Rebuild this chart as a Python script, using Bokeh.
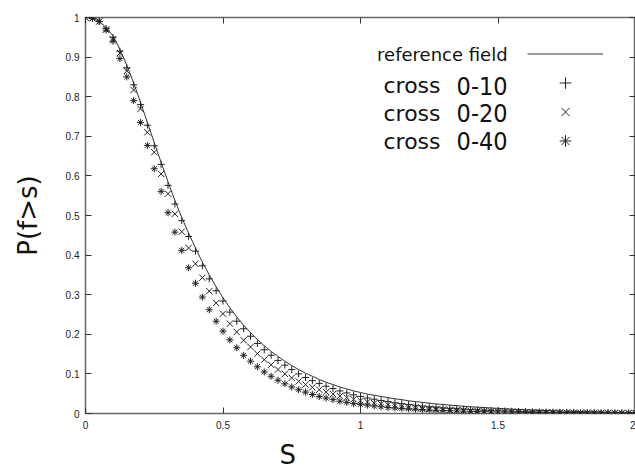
import math
from bokeh.plotting import figure
from bokeh.models import (Range1d, FixedTicker, LinearAxis, Label, Legend, LegendItem,
                          Grid, Title)
from bokeh.embed import file_html
from bokeh.resources import INLINE

# ---------------- data ----------------
s = [0.0, 0.025, 0.05, 0.075, 0.1, 0.125, 0.15, 0.175, 0.2, 0.225,
     0.25, 0.275, 0.3, 0.325, 0.35, 0.375, 0.4, 0.425, 0.45, 0.475,
     0.5, 0.525, 0.55, 0.575, 0.6, 0.625, 0.65, 0.675, 0.7, 0.725,
     0.75, 0.775, 0.8, 0.825, 0.85, 0.875, 0.9, 0.925, 0.95, 0.975,
     1.0, 1.025, 1.05, 1.075, 1.1, 1.125, 1.15, 1.175, 1.2, 1.225,
     1.25, 1.275, 1.3, 1.325, 1.35, 1.375, 1.4, 1.425, 1.45, 1.475,
     1.5, 1.525, 1.55, 1.575, 1.6, 1.625, 1.65, 1.675, 1.7, 1.725,
     1.75, 1.775, 1.8, 1.825, 1.85, 1.875, 1.9, 1.925, 1.95, 1.975,
     2.0]

p_ref = [1.0, 0.998, 0.99, 0.975, 0.953, 0.92, 0.88, 0.835, 0.786, 0.735,
         0.684, 0.634, 0.585, 0.538, 0.495, 0.455, 0.418, 0.382, 0.350, 0.320,
         0.292, 0.267, 0.244, 0.223, 0.204, 0.187, 0.171, 0.157, 0.144, 0.132,
         0.121, 0.111, 0.102, 0.094, 0.086, 0.079, 0.073, 0.067, 0.062, 0.057,
         0.053, 0.049, 0.046, 0.043, 0.040, 0.037, 0.035, 0.032, 0.030, 0.028,
         0.026, 0.024, 0.023, 0.021, 0.020, 0.018, 0.017, 0.016, 0.015, 0.014,
         0.013, 0.012, 0.011, 0.0102, 0.0094, 0.0087, 0.008, 0.0074, 0.0068, 0.0063,
         0.0058, 0.0053, 0.0049, 0.0045, 0.0042, 0.0038, 0.0035, 0.0032, 0.003, 0.0027,
         0.0025]

p_0_10 = [1.0, 0.998, 0.99, 0.972, 0.95, 0.915, 0.873, 0.83, 0.78, 0.728,
          0.676, 0.629, 0.576, 0.529, 0.487, 0.447, 0.410, 0.373, 0.340, 0.310,
          0.284, 0.256, 0.233, 0.214, 0.195, 0.177, 0.161, 0.147, 0.134, 0.122,
          0.111, 0.100, 0.091, 0.083, 0.076, 0.069, 0.063, 0.057, 0.052, 0.047,
          0.043, 0.039, 0.036, 0.033, 0.030, 0.027, 0.025, 0.023, 0.021, 0.019,
          0.017, 0.016, 0.014, 0.013, 0.012, 0.011, 0.010, 0.009, 0.008, 0.0075,
          0.007, 0.0063, 0.0057, 0.0052, 0.0047, 0.0043, 0.0039, 0.0035, 0.0032, 0.0029,
          0.0026, 0.0024, 0.0022, 0.002, 0.0018, 0.0016, 0.0015, 0.0013, 0.0012, 0.0011,
          0.001]

p_0_20 = [1.0, 0.998, 0.99, 0.97, 0.945, 0.91, 0.865, 0.817, 0.769, 0.71,
          0.66, 0.605, 0.555, 0.504, 0.459, 0.418, 0.378, 0.343, 0.309, 0.279,
          0.252, 0.227, 0.206, 0.185, 0.168, 0.151, 0.136, 0.123, 0.111, 0.100,
          0.090, 0.081, 0.073, 0.066, 0.060, 0.054, 0.049, 0.044, 0.040, 0.036,
          0.032, 0.029, 0.026, 0.024, 0.022, 0.020, 0.018, 0.016, 0.015, 0.013,
          0.012, 0.011, 0.010, 0.009, 0.0085, 0.0078, 0.0071, 0.0065, 0.006, 0.0055,
          0.005, 0.0046, 0.0042, 0.0039, 0.0036, 0.0033, 0.003, 0.0028, 0.0026, 0.0024,
          0.0022, 0.002, 0.0018, 0.0017, 0.0015, 0.0014, 0.0013, 0.0012, 0.0011, 0.001,
          0.0009]

p_0_40 = [1.0, 0.998, 0.99, 0.968, 0.94, 0.896, 0.85, 0.79, 0.735, 0.677,
          0.618, 0.561, 0.507, 0.458, 0.412, 0.368, 0.329, 0.294, 0.262, 0.233,
          0.208, 0.186, 0.166, 0.147, 0.132, 0.118, 0.105, 0.094, 0.084, 0.075,
          0.067, 0.060, 0.054, 0.048, 0.043, 0.039, 0.035, 0.031, 0.028, 0.025,
          0.023, 0.021, 0.019, 0.017, 0.015, 0.014, 0.013, 0.012, 0.011, 0.010,
          0.009, 0.0083, 0.0076, 0.007, 0.0064, 0.0059, 0.0054, 0.005, 0.0046, 0.0042,
          0.0039, 0.0036, 0.0033, 0.003, 0.0028, 0.0026, 0.0024, 0.0022, 0.002, 0.0019,
          0.0017, 0.0016, 0.0015, 0.0014, 0.0013, 0.0012, 0.0011, 0.001, 0.0009, 0.0009,
          0.0008]

x_ticks = [0, 0.5, 1, 1.5, 2]
x_tick_labels = ["0", "0.5", "1", "1.5", "2"]
y_ticks = [0.0, 0.1, 0.2, 0.3, 0.4, 0.5, 0.6, 0.7, 0.8, 0.9, 1.0]
y_tick_labels = ["0", "0.1", "0.2", "0.3", "0.4", "0.5", "0.6", "0.7", "0.8", "0.9", "1"]

series_labels = ["0-10", "0-20", "0-40"]

# ---------------- figure ----------------
p = figure(width=635, height=476, output_backend="svg", toolbar_location=None,
           x_range=Range1d(0, 2), y_range=Range1d(0, 1),
           x_axis_location=None, y_axis_location=None,
           min_border_left=85, min_border_right=0, min_border_top=17, min_border_bottom=63)
p.outline_line_color = "#666666"
p.outline_line_width = 1.5
p.background_fill_color = "white"
p.border_fill_color = "white"
for g in p.select(type=Grid):
    g.visible = False

TICK_FONT = "Liberation Sans"


def make_axis(kind, ticks, labels, show):
    ax = LinearAxis(ticker=FixedTicker(ticks=ticks))
    ax.axis_line_color = None
    ax.major_tick_in = 6
    ax.major_tick_out = 0
    ax.major_tick_line_color = "#333333"
    ax.major_tick_line_width = 1
    ax.minor_tick_line_color = None
    if show:
        ax.major_label_overrides = {t: l for t, l in zip(ticks, labels)}
        ax.major_label_text_font = TICK_FONT
        ax.major_label_text_font_size = "10px"
        ax.major_label_text_color = "#222222"
        ax.major_label_standoff = 7 if kind == "below" else 6
    else:
        # mirrored ticks only (gnuplot style), labels not drawn
        ax.major_label_text_font_size = "1px"
        ax.major_label_text_color = None
        ax.major_label_standoff = 0
    p.add_layout(ax, kind)
    return ax


make_axis("below", x_ticks, x_tick_labels, True)
yax = make_axis("left", y_ticks, y_tick_labels, True)
make_axis("above", x_ticks, x_tick_labels, False)
make_axis("right", y_ticks, y_tick_labels, False)

yax.axis_label = "P(f>s)"
yax.axis_label_text_font = "DejaVu Sans"
yax.axis_label_text_font_size = "26px"
yax.axis_label_text_font_style = "normal"
yax.axis_label_text_color = "#111111"
yax.axis_label_standoff = 20

p.add_layout(Title(text="S", align="left", offset=194, text_font="DejaVu Sans",
                   text_font_size="26px", text_font_style="normal",
                   text_color="#111111", standoff=12), "below")

ink = "#222222"
r_line = p.line(s, p_ref, line_color="#333333", line_width=1)
r_a = p.scatter(s, p_0_10, marker="cross", size=7, line_color=ink, line_width=1)
r_b = p.scatter(s, p_0_20, marker="x", size=9, line_color=ink, line_width=1)
r_c = p.scatter(s, p_0_40, marker="asterisk", size=7, line_color=ink, line_width=1)

legend = Legend(items=[LegendItem(label=" ", renderers=[r]) for r in (r_line, r_a, r_b, r_c)],
                location="top_right", glyph_width=76, glyph_height=29, spacing=0,
                padding=0, margin=22, label_width=10, label_standoff=0,
                label_text_font_size="1px", label_text_color=None,
                border_line_color=None, background_fill_alpha=0)
p.add_layout(legend)

# legend texts (gnuplot style: text left of the sample)
p.add_layout(Label(x=1.535, y=0.907, text="reference field", text_align="right",
                   text_baseline="middle", text_font="DejaVu Sans",
                   text_font_size="18px", text_color="#111111"))
rows_y = [0.828, 0.758, 0.687]
for lab, yy in zip(series_labels, rows_y):
    p.add_layout(Label(x=1.291, y=yy, text="cross", text_align="right",
                       text_baseline="middle", text_font="DejaVu Sans",
                       text_font_size="22px", text_color="#111111"))
    p.add_layout(Label(x=1.535, y=yy, text=lab, text_align="right",
                       text_baseline="middle", text_font="DejaVu Sans Condensed, DejaVu Sans",
                       text_font_size="25px", text_color="#111111"))

open("out.html", "w").write(file_html(p, INLINE))
